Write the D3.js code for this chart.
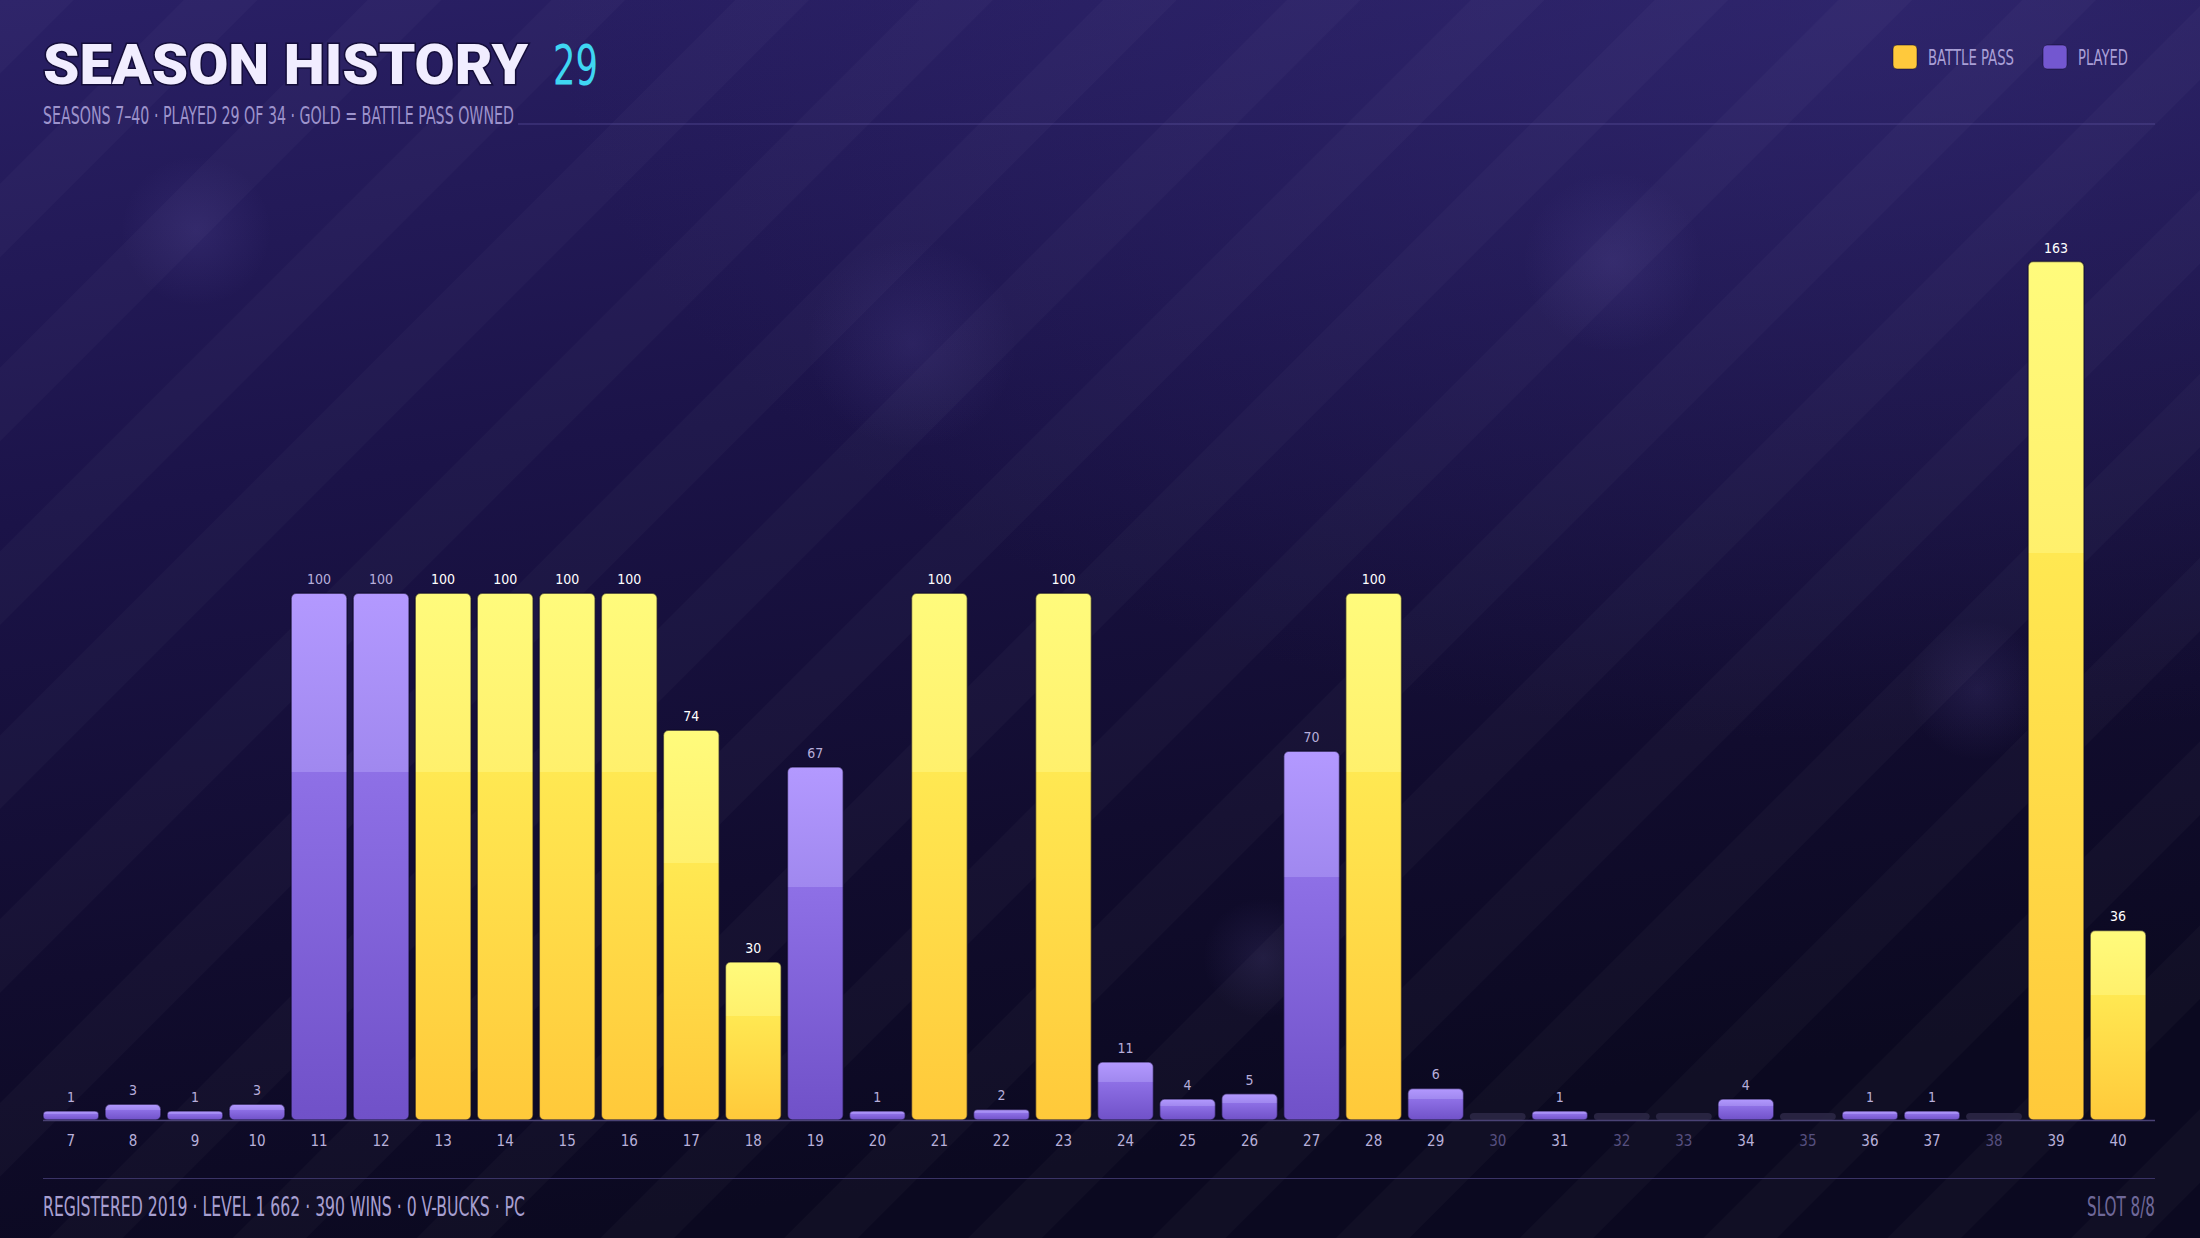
<!DOCTYPE html>
<html>
<head>
<meta charset="utf-8">
<script src="https://cdn.jsdelivr.net/npm/d3@7"></script>
<style>
  html, body { margin: 0; padding: 0; background: #120c33; overflow: hidden; }
  svg { display: block; }
</style>
</head>
<body>
<div id="chart"></div>
<script>
// Data
const seasons = ["7","8","9","10","11","12","13","14","15","16","17","18","19","20","21","22","23",
                 "24","25","26","27","28","29","30","31","32","33","34","35","36","37","38","39","40"];
const levels = [1, 3, 1, 3, 100, 100, 100, 100, 100, 100, 74, 30, 67, 1, 100, 2, 100,
                11, 4, 5, 70, 100, 6, 0, 1, 0, 0, 4, 0, 1, 1, 0, 163, 36];
const battlePass = [0, 0, 0, 0, 0, 0, 1, 1, 1, 1, 1, 1, 0, 0, 1, 0, 1,
                    0, 0, 0, 0, 1, 0, 0, 0, 0, 0, 0, 0, 0, 0, 0, 1, 1];
const legendLabels = ["BATTLE PASS", "PLAYED"];
const footerItems = ["REGISTERED 2019", "LEVEL 1 662", "390 WINS", "0 V-BUCKS", "PC"];

const svgWidth = 2200, svgHeight = 1238;
const COND = "'Liberation Sans Narrow','DejaVu Sans Condensed','Open Sans',sans-serif";

const svg = d3.select("#chart")
    .append("svg")
    .attr("width", svgWidth)
    .attr("height", svgHeight);

const defs = svg.append("defs");

// Background gradient
const bg = defs.append("linearGradient").attr("id", "bg")
    .attr("x1", 0).attr("y1", 0).attr("x2", 0.25).attr("y2", 1);
bg.append("stop").attr("offset", "0%").attr("stop-color", "#2a2066");
bg.append("stop").attr("offset", "40%").attr("stop-color", "#1b1348");
bg.append("stop").attr("offset", "75%").attr("stop-color", "#110c2e");
bg.append("stop").attr("offset", "100%").attr("stop-color", "#0b0920");

const glow = defs.append("radialGradient").attr("id", "glow")
    .attr("cx", "85%").attr("cy", "0%").attr("r", "60%");
glow.append("stop").attr("offset", "0%").attr("stop-color", "#3a3080").attr("stop-opacity", 0.5);
glow.append("stop").attr("offset", "100%").attr("stop-color", "#3a3080").attr("stop-opacity", 0);

const bokeh = defs.append("radialGradient").attr("id", "bokeh");
bokeh.append("stop").attr("offset", "0%").attr("stop-color", "#8c7ce0").attr("stop-opacity", 0.12);
bokeh.append("stop").attr("offset", "100%").attr("stop-color", "#8c7ce0").attr("stop-opacity", 0);

// Diagonal stripes
const stripes = defs.append("pattern").attr("id", "stripes")
    .attr("patternUnits", "userSpaceOnUse")
    .attr("width", 130).attr("height", 130)
    .attr("patternTransform", "rotate(45)");
stripes.append("rect").attr("x", 0).attr("y", 0).attr("width", 52).attr("height", 130)
    .attr("fill", "#ffffff").attr("fill-opacity", 0.022);

// Bar gradients (sharp step at ~34% of the bar height)
function barGradient(id, stops) {
    const g = defs.append("linearGradient").attr("id", id)
        .attr("x1", 0).attr("y1", 0).attr("x2", 0).attr("y2", 1);
    stops.forEach(s => g.append("stop").attr("offset", s[0]).attr("stop-color", s[1]));
}
barGradient("goldGrad", [["0%", "#fffb7c"], ["34%", "#fff06c"], ["34%", "#ffe852"], ["100%", "#ffc93a"]]);
barGradient("purpleGrad", [["0%", "#b399ff"], ["34%", "#a088ef"], ["34%", "#8e70e6"], ["100%", "#7051c8"]]);

svg.append("rect").attr("width", svgWidth).attr("height", svgHeight).attr("fill", "url(#bg)");
svg.append("rect").attr("width", svgWidth).attr("height", svgHeight).attr("fill", "url(#glow)");
svg.append("rect").attr("width", svgWidth).attr("height", svgHeight).attr("fill", "url(#stripes)");

[[196, 231, 75], [912, 344, 105], [1613, 262, 90], [1978, 690, 70], [1263, 958, 60]].forEach(c => {
    svg.append("circle").attr("cx", c[0]).attr("cy", c[1]).attr("r", c[2]).attr("fill", "url(#bokeh)");
});

// Title
svg.append("text")
    .attr("x", 43).attr("y", 84)
    .attr("font-family", "Roboto, Inter, sans-serif")
    .attr("font-weight", 900)
    .attr("font-size", 55)
    .attr("fill", "#f1edff")
    .attr("textLength", 485)
    .attr("lengthAdjust", "spacingAndGlyphs")
    .style("paint-order", "stroke")
    .attr("stroke", "#140d3a").attr("stroke-width", 3)
    .text("SEASON HISTORY");

svg.append("text")
    .attr("x", 553).attr("y", 84)
    .attr("font-family", COND)
    .attr("font-size", 55)
    .attr("fill", "#3fd6f2")
    .attr("textLength", 45)
    .attr("lengthAdjust", "spacingAndGlyphs")
    .text("29");

// Subtitle
svg.append("text")
    .attr("x", 43).attr("y", 124)
    .attr("font-family", COND)
    .attr("font-size", 24)
    .attr("fill", "#9d93cc")
    .attr("textLength", 471)
    .attr("lengthAdjust", "spacingAndGlyphs")
    .text("SEASONS 7–40  ·  PLAYED 29 OF 34  ·  GOLD = BATTLE PASS OWNED");

svg.append("line")
    .attr("x1", 43 + 471 + 4).attr("x2", 2155)
    .attr("y1", 124).attr("y2", 124)
    .attr("stroke", "#6a5fb0").attr("stroke-opacity", 0.55).attr("stroke-width", 1.2);

// Legend
const legendColors = ["#ffc93c", "#7357d0"];
const legendX = [1893, 2043];
const legendW = [86, 50];
legendLabels.forEach((lab, i) => {
    svg.append("rect")
        .attr("x", legendX[i]).attr("y", 45)
        .attr("width", 24).attr("height", 24)
        .attr("rx", 4)
        .attr("fill", legendColors[i])
        .attr("stroke", "#0c0826").attr("stroke-opacity", 0.5).attr("stroke-width", 1);
    svg.append("text")
        .attr("x", legendX[i] + 35).attr("y", 65)
        .attr("font-family", COND)
        .attr("font-size", 21)
        .attr("fill", "#a99fd6")
        .attr("textLength", legendW[i])
        .attr("lengthAdjust", "spacingAndGlyphs")
        .text(lab);
});

// Scales
const data = seasons.map((s, i) => ({ season: s, level: levels[i], bp: battlePass[i] === 1, played: levels[i] > 0 }));

const x = d3.scaleBand()
    .domain(seasons)
    .range([43, 2146])
    .paddingInner(0.1)
    .paddingOuter(0);

const y = d3.scaleLinear()
    .domain([0, 163])
    .range([1120, 261.5]);

const baseY = y(0);
const minH = 9, emptyH = 7;
const barH = d => d.played ? Math.max(minH, baseY - y(d.level)) : emptyH;

// Bars
svg.append("g")
    .selectAll("rect")
    .data(data)
    .enter().append("rect")
    .attr("x", d => x(d.season))
    .attr("width", x.bandwidth())
    .attr("y", d => baseY - barH(d))
    .attr("height", d => barH(d))
    .attr("rx", d => barH(d) < 14 ? 4 : 5)
    .attr("fill", d => !d.played ? "#2b2745" : (d.bp ? "url(#goldGrad)" : "url(#purpleGrad)"))
    .attr("fill-opacity", d => d.played ? 1 : 0.9)
    .attr("stroke", d => d.played ? "#0a0620" : "none")
    .attr("stroke-opacity", 0.55)
    .attr("stroke-width", 1.5);

// Value labels
svg.append("g")
    .selectAll("text")
    .data(data.filter(d => d.played))
    .enter().append("text")
    .attr("x", d => x(d.season) + x.bandwidth() / 2)
    .attr("y", d => baseY - barH(d) - 9)
    .attr("text-anchor", "middle")
    .attr("font-family", COND)
    .attr("font-size", 14)
    .attr("fill", d => d.bp ? "#ffffff" : "#b7aedb")
    .text(d => d.level);

// Baseline
svg.append("line")
    .attr("x1", 43).attr("x2", 2155)
    .attr("y1", baseY + 0.5).attr("y2", baseY + 0.5)
    .attr("stroke", "#4a4275").attr("stroke-width", 1.5);

// X axis (tick labels)
const xAxis = svg.append("g")
    .attr("transform", `translate(0, ${baseY})`)
    .call(d3.axisBottom(x).tickSize(0).tickPadding(15));
xAxis.select(".domain").remove();
xAxis.selectAll("text")
    .attr("font-family", COND)
    .attr("font-size", 15)
    .attr("fill", (s, i) => data[i].played ? "#b8b0da" : "#575080");

// Footer
svg.append("line")
    .attr("x1", 43).attr("x2", 2155)
    .attr("y1", 1178.5).attr("y2", 1178.5)
    .attr("stroke", "#3a3366").attr("stroke-width", 1.2);

svg.append("text")
    .attr("x", 43).attr("y", 1216)
    .attr("font-family", COND)
    .attr("font-size", 26)
    .attr("fill", "#a79fd0")
    .attr("textLength", 482)
    .attr("lengthAdjust", "spacingAndGlyphs")
    .text(footerItems.join("  ·  "));

svg.append("text")
    .attr("x", 2155).attr("y", 1216)
    .attr("text-anchor", "end")
    .attr("font-family", COND)
    .attr("font-size", 26)
    .attr("fill", "#6f6899")
    .attr("textLength", 68)
    .attr("lengthAdjust", "spacingAndGlyphs")
    .text("SLOT 8/8");
</script>
</body>
</html>
